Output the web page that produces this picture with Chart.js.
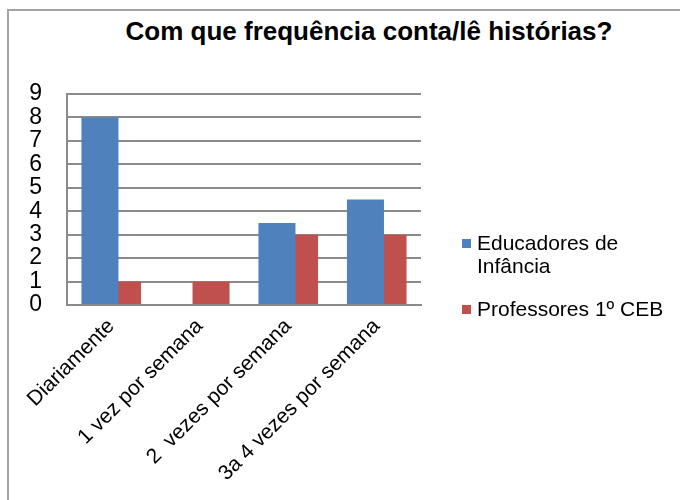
<!DOCTYPE html>
<html>
<head>
<meta charset="utf-8">
<script src="https://cdn.jsdelivr.net/npm/chart.js@4.4.1/dist/chart.umd.min.js"></script>
<style>
  html, body { margin: 0; padding: 0; background: #fff; overflow: hidden; }
  #page { width: 680px; height: 500px; position: relative; overflow: hidden;
          font-family: "Liberation Sans", Arial, sans-serif; }
  .rule { position: absolute; background: #a3a3a3; }
  #rule-top { left: 7px; top: 9px; width: 673px; height: 2px; }
  #rule-left { left: 7px; top: 9px; width: 2px; height: 491px; }
  #title { position: absolute; left: 0; width: 738px; top: 16px; text-align: center;
           font-weight: bold; font-size: 26px; color: #000; white-space: nowrap; }
  #chart { position: absolute; left: 0; top: 0; }
  #legend { position: absolute; left: 462px; top: 231px; font-size: 21px; color: #000; }
  .item { display: flex; align-items: flex-start; margin-bottom: 20px; line-height: 23px; }
  .box { width: 9px; height: 9px; margin-top: 8px; margin-right: 6px; flex: none; }
  .label { max-width: 200px; }
</style>
</head>
<body>
<div id="page">
<div class="rule" id="rule-top"></div>
<div class="rule" id="rule-left"></div>
<div id="title">Com que frequência conta/lê histórias?</div>
<canvas id="chart" width="680" height="500"></canvas>
<div id="legend"></div>
</div>
<script>
const categories = ["Diariamente", "1 vez por semana", "2  vezes por semana", "3a 4 vezes por semana"];
const educadores = [8, 0, 3.5, 4.5];
const professores = [1, 1, 3, 3];
const seriesNames = ["Educadores de Infância", "Professores 1º CEB"];
const seriesColors = ["#4F81BD", "#C0504D"];
const yMin = 0;
const yMax = 9;
const yStep = 1;

const GRID = "#8b8b8b";

function buildLegend() {
  const legend = document.getElementById("legend");
  seriesNames.forEach((name, i) => {
    const row = document.createElement("div");
    row.className = "item";
    row.innerHTML = `<span class="box" style="background:${seriesColors[i]}"></span><span class="label">${name}</span>`;
    legend.appendChild(row);
  });
}

function drawChart() {
  const canvas = document.getElementById("chart");
  new Chart(canvas, {
    type: "bar",
    data: {
      labels: categories,
      datasets: [
        { label: seriesNames[0], data: educadores, backgroundColor: seriesColors[0] },
        { label: seriesNames[1], data: professores, backgroundColor: seriesColors[1] },
      ],
    },
    options: {
      responsive: false,
      animation: false,
      devicePixelRatio: 1,
      // bars wider than their slot so the two series overlap like the Excel original
      categoryPercentage: 0.51,
      barPercentage: 1.64,
      layout: { padding: { top: 94, right: 259, left: 0, bottom: 0 } },
      plugins: {
        legend: { display: false },
        title: { display: false },
        tooltip: { enabled: false },
      },
      scales: {
        x: {
          grid: { display: false },
          border: { display: true, color: GRID, width: 2 },
          ticks: {
            autoSkip: false,
            minRotation: 45,
            maxRotation: 45,
            padding: 1,
            color: "#000",
            font: { family: "'Liberation Sans', Arial", size: 21 },
          },
          afterFit: (scale) => { scale.height = 195; },
        },
        y: {
          min: yMin,
          max: yMax,
          grid: { color: GRID, lineWidth: 2, drawTicks: false },
          border: { display: true, color: GRID, width: 2 },
          ticks: {
            stepSize: yStep,
            autoSkip: false,
            padding: 25,
            color: "#000",
            font: { family: "'Liberation Sans', Arial", size: 23 },
          },
          afterFit: (scale) => { scale.width = 67; },
        },
      },
    },
  });
}

document.addEventListener("DOMContentLoaded", () => {
  buildLegend();
  drawChart();
});
</script>
</body>
</html>
